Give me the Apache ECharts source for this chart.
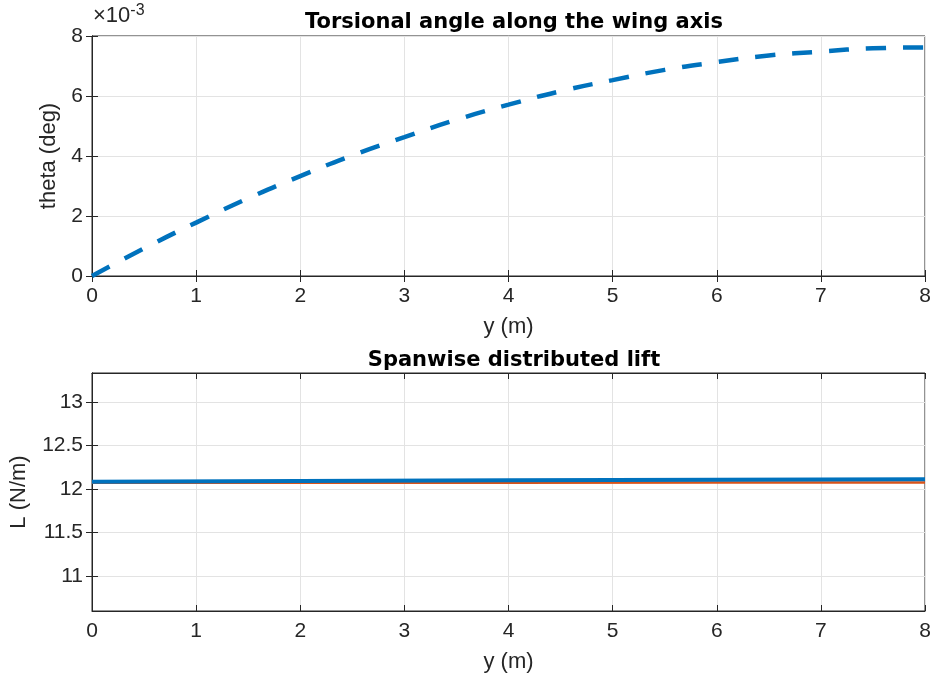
<!DOCTYPE html>
<html>
<head>
<meta charset="utf-8">
<script src="https://cdn.jsdelivr.net/npm/echarts@6/dist/echarts.min.js"></script>
<style>
  html, body { margin: 0; padding: 0; background: #fff; }
  #main { width: 934px; height: 674px; }
</style>
</head>
<body>
<div id="main"></div>
<script>
// spanwise station y (m)
var span = [0, 0.5, 1, 1.5, 2, 2.5, 3, 3.5, 4, 4.5, 5, 5.5, 6, 6.5, 7, 7.5, 8];
// torsional angle, in units of 1e-3 deg
var thetaE3 = [0, 0.92, 1.78, 2.59, 3.33, 4.02, 4.63, 5.21, 5.71, 6.16, 6.53, 6.87, 7.13, 7.35, 7.48, 7.59, 7.62];
// lift stations
var liftSpan = [0, 2, 4, 6, 8];
var liftA = [12.084, 12.092, 12.100, 12.106, 12.112];
var liftB = [12.070, 12.071, 12.072, 12.073, 12.074];
var liftTicks = [11, 11.5, 12, 12.5, 13];

var FONT = 'Liberation Sans';
var INK = '#262626';

function pairs(xs, ys) {
	return xs.map(function(x, i) { return [x, ys[i]]; });
}

var myChart = echarts.init(document.getElementById('main'));

function xAxisMain(grid, name) {
	return {
		type: 'value', gridIndex: grid, min: 0, max: 8, interval: 1,
		name: name, nameLocation: 'middle', nameGap: 40,
		nameTextStyle: { color: INK, fontSize: 22, fontFamily: FONT },
		axisLine: { show: true, lineStyle: { color: INK, width: 1 } },
		axisTick: { show: true, inside: true, length: 6, lineStyle: { color: INK } },
		axisLabel: { color: INK, fontSize: 21, fontFamily: FONT, margin: 10 },
		splitLine: { show: true, lineStyle: { color: '#e3e3e3', width: 1 } }
	};
}
function xAxisTop(grid) {
	return {
		type: 'value', gridIndex: grid, min: 0, max: 8, interval: 1, position: 'top',
		axisLine: { show: true, lineStyle: { color: INK } },
		axisTick: { show: true, inside: true, length: 6, lineStyle: { color: INK } },
		axisLabel: { show: false }, splitLine: { show: false }
	};
}

var option = {
	animation: false,
	title: [{
		text: 'Torsional angle along the wing axis',
		left: 509, top: 7, textAlign: 'center',
		textStyle: { fontSize: 21, fontWeight: 'bold', color: '#000', fontFamily: 'DejaVu Sans' }
	}, {
		text: 'Spanwise distributed lift',
		left: 509, top: 345, textAlign: 'center',
		textStyle: { fontSize: 21, fontWeight: 'bold', color: '#000', fontFamily: 'DejaVu Sans' }
	}],
	graphic: [{
		type: 'text', left: 93, top: 3,
		style: {
			text: '{a|×10}{b|-3}',
			rich: {
				a: { fontSize: 22, fontFamily: FONT, fill: INK },
				b: { fontSize: 16, fontFamily: FONT, fill: INK, verticalAlign: 'top', padding: [0, 0, 10, 0] }
			}
		}
	}],
	grid: [
		{ left: 92, right: 9, top: 36, height: 240, show: true, borderColor: INK, borderWidth: 1 },
		{ left: 92, right: 9, top: 373, height: 241, show: true, borderColor: INK, borderWidth: 1 }
	],
	xAxis: [xAxisMain(0, 'y (m)'), xAxisMain(1, 'y (m)'), xAxisTop(0), xAxisTop(1)],
	yAxis: [{
		type: 'value', gridIndex: 0, min: 0, max: 8, interval: 2,
		name: 'theta (deg)', nameLocation: 'middle', nameGap: 32,
		nameTextStyle: { color: INK, fontSize: 22, fontFamily: FONT },
		axisLine: { show: true, lineStyle: { color: INK } },
		axisTick: { show: true, inside: true, length: 6, lineStyle: { color: INK } },
		axisLabel: { color: INK, fontSize: 21, fontFamily: FONT, margin: 9 },
		splitLine: { show: true, lineStyle: { color: '#e3e3e3' } }
	}, {
		type: 'value', gridIndex: 1, min: 10.6, max: 13.33,
		name: 'L (N/m)', nameLocation: 'middle', nameGap: 62,
		nameTextStyle: { color: INK, fontSize: 22, fontFamily: FONT },
		axisLine: { show: true, lineStyle: { color: INK } },
		axisTick: { show: true, inside: true, length: 6, lineStyle: { color: INK }, customValues: liftTicks },
		axisLabel: { color: INK, fontSize: 21, fontFamily: FONT, margin: 9, customValues: liftTicks },
		splitLine: { show: true, lineStyle: { color: '#e3e3e3' } }
	}, {
		type: 'value', gridIndex: 0, min: 0, max: 8, interval: 2, position: 'right',
		axisLine: { show: true, lineStyle: { color: INK } },
		axisTick: { show: true, inside: true, length: 6, lineStyle: { color: INK } },
		axisLabel: { show: false }, splitLine: { show: false }
	}, {
		type: 'value', gridIndex: 1, min: 10.6, max: 13.33, position: 'right',
		axisLine: { show: true, lineStyle: { color: INK } },
		axisTick: { show: true, inside: true, length: 6, lineStyle: { color: INK }, customValues: liftTicks },
		axisLabel: { show: false, customValues: liftTicks }, splitLine: { show: false }
	}],
	series: [{
		type: 'line', xAxisIndex: 0, yAxisIndex: 0, data: pairs(span, thetaE3),
		smooth: true, symbol: 'none',
		lineStyle: { color: '#0072BD', width: 4.5, type: [20, 17] }
	}, {
		type: 'line', xAxisIndex: 1, yAxisIndex: 1, data: pairs(liftSpan, liftB),
		symbol: 'none', lineStyle: { color: '#D95319', width: 2.5 }
	}, {
		type: 'line', xAxisIndex: 1, yAxisIndex: 1, data: pairs(liftSpan, liftA),
		symbol: 'none', lineStyle: { color: '#0072BD', width: 4 }
	}]
};
myChart.setOption(option);
</script>
</body>
</html>
